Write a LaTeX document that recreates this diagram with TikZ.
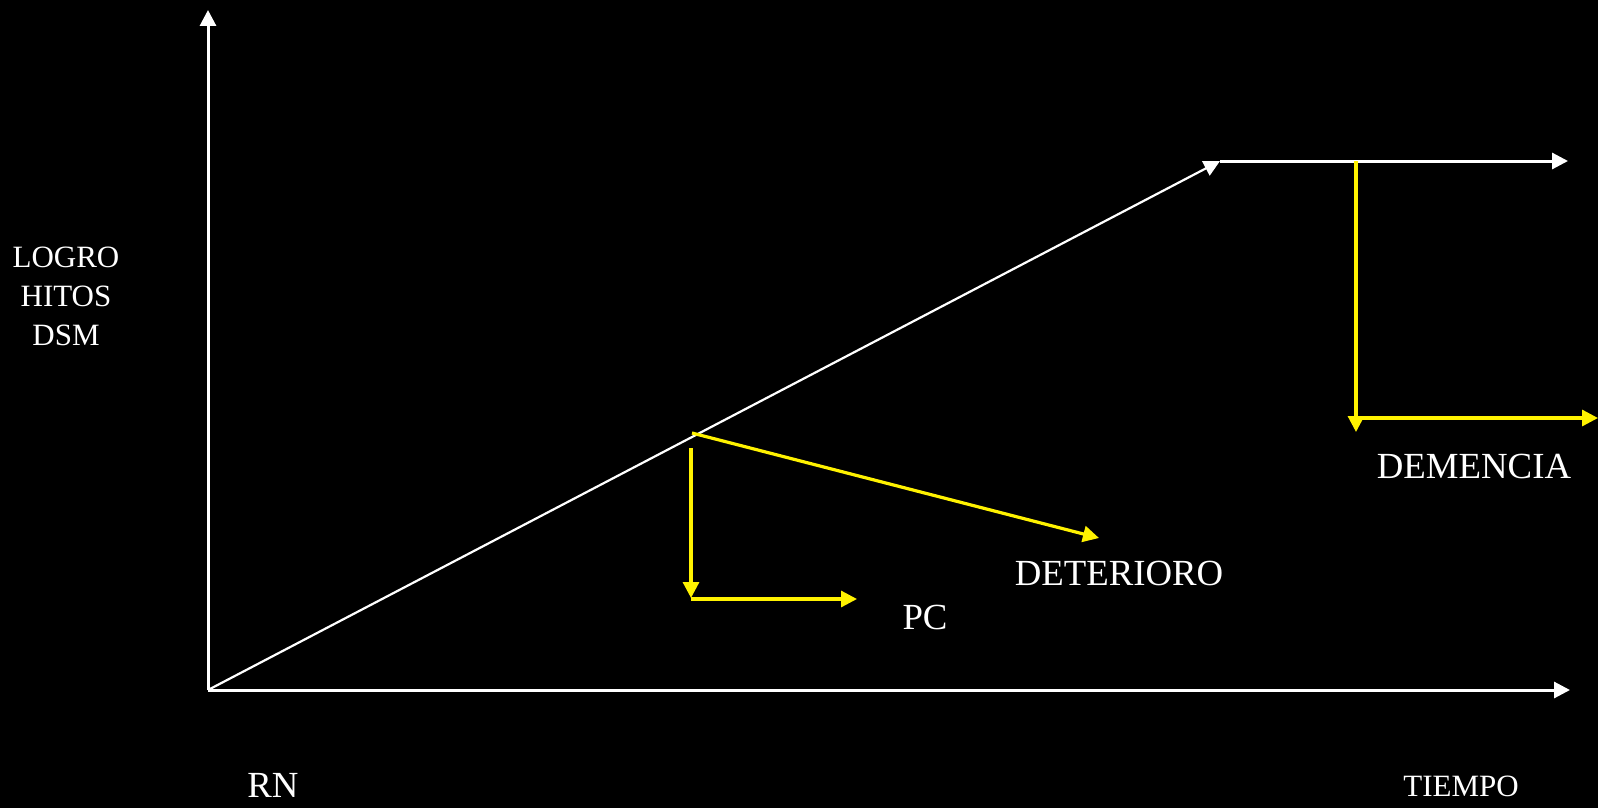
\documentclass[tikz,border=0pt]{standalone}
\usepackage{fontspec}
\setmainfont{Liberation Serif}
\usetikzlibrary{arrows.meta}
\begin{document}
\begin{tikzpicture}[x=0.5pt,y=-0.5pt,
  tipw/.style={-{Triangle[length=8pt,width=8pt]}},
  axisline/.style={white, line width=1.5pt, tipw},
  curveline/.style={white, line width=1.1pt, tipw},
  yline/.style={yellow, line width=1.6pt, tipw},
  biglbl/.style={text=white, inner sep=0pt, font=\fontsize{18.4}{22}\selectfont},
  smalllbl/.style={text=white, inner sep=0pt, align=center, font=\fontsize{15.5}{19.5}\selectfont}]
\fill[black] (0,0) rectangle (1598,808);
\useasboundingbox (0,0) rectangle (1598,808);
% key points
\coordinate (O) at (208,690);
\coordinate (Ytop) at (208,10);
\coordinate (Xend) at (1570,690);
\coordinate (P) at (1220,161);
\coordinate (Hend) at (1568,161);
\coordinate (D0) at (1356,161);
\coordinate (D1) at (1356,432);
\coordinate (D2) at (1356,418);
\coordinate (D3) at (1598,418);
\coordinate (Q) at (692,433);
\coordinate (Qend) at (1099,538);
\coordinate (C0) at (691,448);
\coordinate (C1) at (691,598);
\coordinate (C2) at (691,599);
\coordinate (C3) at (857,599);
% axes and curve
\draw[axisline] (O) -- (Ytop);
\draw[axisline] (O) -- (Xend);
\draw[curveline] (O) -- (P);
\draw[axisline] (P) -- (Hend);
% yellow branches
\draw[yline] (D0) -- (D1);
\draw[yline] (D2) -- (D3);
\draw[yline] (Q) -- (Qend);
\draw[yline] (C0) -- (C1);
\draw[yline] (C2) -- (C3);
% labels
\node[smalllbl] (logro) at (66,296) {LOGRO\\HITOS\\DSM};
\node[biglbl] (dem) at (1474,466) {DEMENCIA};
\node[biglbl] (det) at (1119,573) {DETERIORO};
\node[biglbl] (pc) at (925,617) {PC};
\node[biglbl] (rn) at (273,785) {RN};
\node[smalllbl] (tiempo) at (1461,786) {TIEMPO};
\end{tikzpicture}
\end{document}
